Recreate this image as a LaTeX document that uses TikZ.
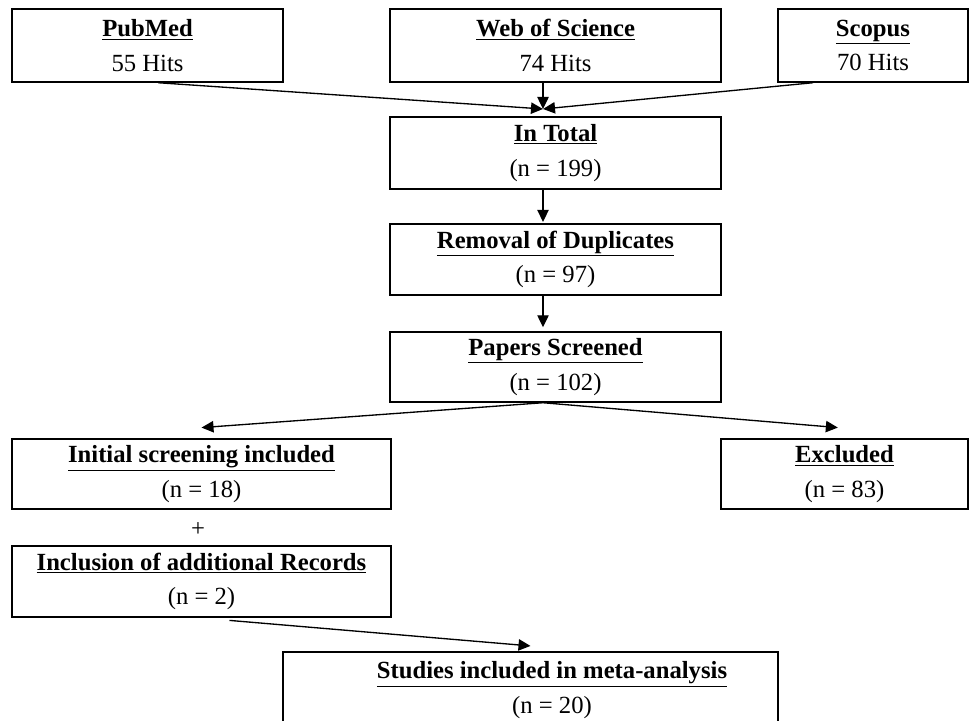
\documentclass[tikz,border=0pt]{standalone}
\usepackage{fontspec}
\setmainfont{Liberation Serif}
\usetikzlibrary{arrows.meta}

\tikzset{
  flowbox/.style={draw, line width=1.1pt, align=center, inner sep=0pt,
    font=\fontsize{18.5}{26}\selectfont},
  flowtext/.style={align=center, inner sep=0pt, font=\fontsize{18.5}{26}\selectfont},
  flowarrow/.style={-{Triangle[length=9pt,width=8.5pt]}, line width=1pt},
}
\newcommand{\boxtitle}[1]{\underline{\textbf{#1}}}

\begin{document}
\begin{tikzpicture}[x=0.75pt, y=-0.75pt]
\useasboundingbox (0,0) rectangle (969,720);
\clip (0,0) rectangle (969,720);
% sources
\node[flowbox, minimum width=203.25pt, minimum height=54.75pt] (pubmed) at (147.5,45.5) {\boxtitle{PubMed}\\55 Hits};
\node[flowbox, minimum width=248.25pt, minimum height=54.75pt] (wos) at (555.5,45.5) {\boxtitle{Web of Science}\\74 Hits};
\node[flowbox, minimum width=142.5pt, minimum height=54.75pt] (scopus) at (873,45.5) {\boxtitle{Scopus}\\70 Hits};
\coordinate (spine) at (543,0);
\coordinate (merge) at (543,109);
% main column
\node[flowbox, minimum width=248.25pt, minimum height=54pt] (total) at (555.5,153) {\boxtitle{In Total}\\(n = 199)};
\node[flowbox, minimum width=248.25pt, minimum height=53.25pt] (removal) at (555.5,259.5) {\boxtitle{Removal of Duplicates}\\(n = 97)};
\node[flowbox, minimum width=248.25pt, minimum height=52.5pt] (papers) at (555.5,367) {\boxtitle{Papers Screened}\\(n = 102)};
% split
\node[flowbox, minimum width=284.25pt, minimum height=52.5pt] (initial) at (201.5,474) {\boxtitle{Initial screening included}\\(n = 18)};
\node[flowbox, minimum width=185.25pt, minimum height=52.5pt] (excluded) at (844.5,474) {\boxtitle{Excluded}\\(n = 83)};
\node[flowtext] (plus) at (198,530) {+};
\node[flowbox, minimum width=284.25pt, minimum height=53.25pt] (inclusion) at (201.5,581.5) {\boxtitle{Inclusion of additional Records}\\(n = 2)};
\node[flowbox, minimum width=371.25pt, minimum height=63pt] (studies) at (530.5,694) {};
\node[flowtext] (studiestext) at (552,690) {\boxtitle{Studies included in meta-analysis}\\(n = 20)};
% arrows
\draw[flowarrow] ([xshift=8pt]pubmed.south) -- (merge);
\draw[flowarrow] (wos.south -| spine) -- (merge);
\draw[flowarrow] ([xshift=-45pt]scopus.south) -- (merge);
\draw[flowarrow] (total.south -| spine) -- ([yshift=1pt]removal.north -| spine);
\draw[flowarrow] (removal.south -| spine) -- ([yshift=3pt]papers.north -| spine);
\draw[flowarrow] (papers.south -| spine) -- ([yshift=8pt]initial.north);
\draw[flowarrow] (papers.south -| spine) -- ([xshift=-5pt,yshift=8pt]excluded.north);
\draw[flowarrow] ([xshift=21pt,yshift=-2pt]inclusion.south) -- ([yshift=4pt]studies.north);
\end{tikzpicture}
\end{document}
